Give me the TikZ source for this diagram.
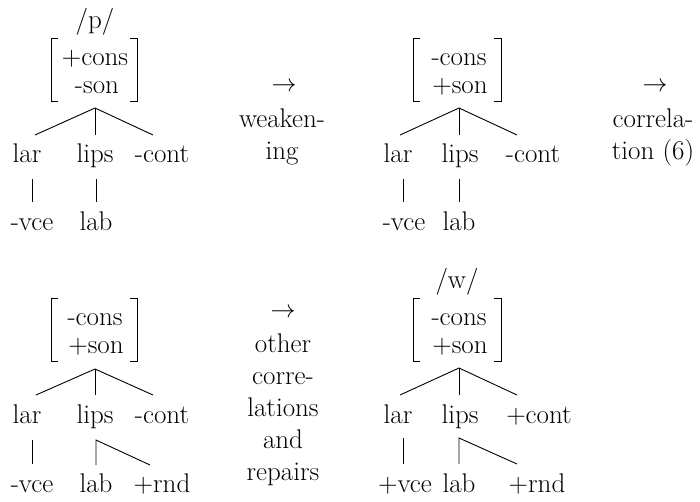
\documentclass[tikz,border=0pt]{standalone}
\begin{document}
\begin{tikzpicture}[x=1pt,y=-1pt,
  txt/.style={anchor=base,inner sep=0pt,font=\fontsize{27}{32}\selectfont},
  ln/.style={line width=0.9pt},
  brk/.style={line width=0.9pt}]
\useasboundingbox (0,0) rectangle (700,501);

% ---------- tree a (top left) ----------
\node[txt] (a-seg) at (95,28) {/p/};
\node[txt] (a-f1) at (95,65) {+cons};
\node[txt] (a-f2) at (97,93) {-son};
\draw[brk] (58,38) -| (51,101) -- (58,101);
\draw[brk] (130,38) -| (137,101) -- (130,101);
\coordinate (a-top) at (95,108);
\coordinate (a-l) at (35,135);
\coordinate (a-m) at (95,135);
\coordinate (a-r) at (153,135);
\draw[ln] (a-l) -- (a-top) -- (a-r);
\draw[ln] (a-top) -- (a-m);
\node[txt] (a-lar) at (27,162) {lar};
\node[txt] (a-lips) at (95,162) {lips};
\node[txt] (a-cont) at (162,162) {-cont};
\coordinate (a-lar1) at (32,179);
\coordinate (a-lar2) at (32,202);
\coordinate (a-lips1) at (96,179);
\coordinate (a-lips2) at (96,202);
\draw[ln] (a-lar1) -- (a-lar2);
\draw[ln] (a-lips1) -- (a-lips2);
\node[txt] (a-vce) at (32,230) {-vce};
\node[txt] (a-lab) at (96,230) {lab};

% ---------- middle top ----------
\node[txt] (m1-arr) at (284,91) {$\rightarrow$};
\node[txt] (m1-t1) at (282,127) {weaken-};
\node[txt] (m1-t2) at (282,159) {ing};

% ---------- tree b (top right) ----------
\node[txt] (b-f1) at (459,65) {-cons};
\node[txt] (b-f2) at (460,93) {+son};
\draw[brk] (420,38) -| (413,101) -- (420,101);
\draw[brk] (494,38) -| (501,101) -- (494,101);
\coordinate (b-top) at (459,108);
\coordinate (b-l) at (400,135);
\coordinate (b-m) at (459,135);
\coordinate (b-r) at (517,135);
\draw[ln] (b-l) -- (b-top) -- (b-r);
\draw[ln] (b-top) -- (b-m);
\node[txt] (b-lar) at (398,162) {lar};
\node[txt] (b-lips) at (460,162) {lips};
\node[txt] (b-cont) at (533,162) {-cont};
\coordinate (b-lar1) at (403,179);
\coordinate (b-lar2) at (403,202);
\coordinate (b-lips1) at (459,179);
\coordinate (b-lips2) at (459,202);
\draw[ln] (b-lar1) -- (b-lar2);
\draw[ln] (b-lips1) -- (b-lips2);
\node[txt] (b-vce) at (404,230) {-vce};
\node[txt] (b-lab) at (459,230) {lab};

% ---------- right top ----------
\node[txt] (m2-arr) at (655,91) {$\rightarrow$};
\node[txt] (m2-t1) at (653,127) {correla-};
\node[txt] (m2-t2) at (653,159) {tion (6)};

% ---------- tree c (bottom left) ----------
\node[txt] (c-f1) at (95,325) {-cons};
\node[txt] (c-f2) at (96,353) {+son};
\draw[brk] (58,298) -| (51,361) -- (58,361);
\draw[brk] (130,298) -| (137,361) -- (130,361);
\coordinate (c-top) at (95,369);
\coordinate (c-l) at (36,395);
\coordinate (c-m) at (95,395);
\coordinate (c-r) at (153,395);
\draw[ln] (c-l) -- (c-top) -- (c-r);
\draw[ln] (c-top) -- (c-m);
\node[txt] (c-lar) at (27,423) {lar};
\node[txt] (c-lips) at (95,423) {lips};
\node[txt] (c-cont) at (162,423) {-cont};
\coordinate (c-lar1) at (32,440);
\coordinate (c-lar2) at (32,464);
\coordinate (c-lips1) at (96,440);
\coordinate (c-lips2) at (96,465);
\coordinate (c-rnd1) at (150,465);
\draw[ln] (c-lar1) -- (c-lar2);
\draw[ln] (c-lips2) -- (c-lips1) -- (c-rnd1);
\node[txt] (c-vce) at (32,492) {-vce};
\node[txt] (c-lab) at (96,492) {lab};
\node[txt] (c-rnd) at (162,492) {+rnd};

% ---------- middle bottom ----------
\node[txt] (m3-arr) at (283,317) {$\rightarrow$};
\node[txt] (m3-t1) at (283,352) {other};
\node[txt] (m3-t2) at (283,384) {corre-};
\node[txt] (m3-t3) at (283,416) {lations};
\node[txt] (m3-t4) at (283,448) {and};
\node[txt] (m3-t5) at (283,480) {repairs};

% ---------- tree d (bottom right) ----------
\node[txt] (d-seg) at (457,288) {/w/};
\node[txt] (d-f1) at (459,325) {-cons};
\node[txt] (d-f2) at (460,353) {+son};
\draw[brk] (420,298) -| (413,361) -- (420,361);
\draw[brk] (494,298) -| (501,361) -- (494,361);
\coordinate (d-top) at (459,368);
\coordinate (d-l) at (400,395);
\coordinate (d-m) at (459,395);
\coordinate (d-r) at (517,395);
\draw[ln] (d-l) -- (d-top) -- (d-r);
\draw[ln] (d-top) -- (d-m);
\node[txt] (d-lar) at (398,423) {lar};
\node[txt] (d-lips) at (460,423) {lips};
\node[txt] (d-cont) at (539,423) {+cont};
\coordinate (d-lar1) at (403,438);
\coordinate (d-lar2) at (403,464);
\coordinate (d-lips1) at (459,438);
\coordinate (d-lips2) at (459,464);
\coordinate (d-rnd1) at (517,464);
\draw[ln] (d-lar1) -- (d-lar2);
\draw[ln] (d-lips2) -- (d-lips1) -- (d-rnd1);
\node[txt] (d-vce) at (405,492) {+vce};
\node[txt] (d-lab) at (459,492) {lab};
\node[txt] (d-rnd) at (537,492) {+rnd};
\end{tikzpicture}
\end{document}
